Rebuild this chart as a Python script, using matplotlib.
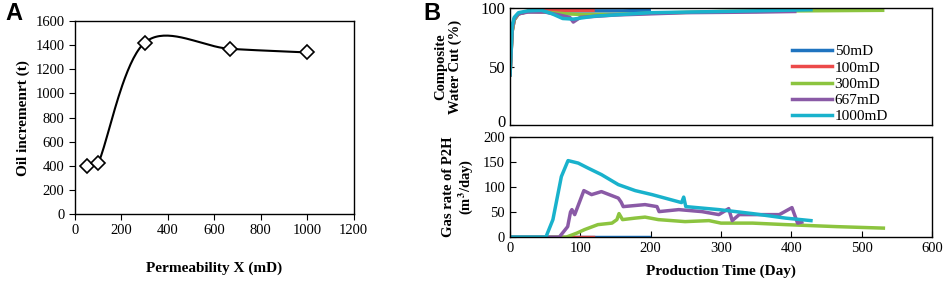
import numpy as np
from matplotlib import pyplot as plt
from matplotlib.transforms import ScaledTranslation

plt.rcParams['font.family'] = ['Liberation Serif', 'DejaVu Serif']
plt.rcParams['mathtext.fontset'] = 'stix'

# Panel A: oil increment vs permeability
perm = [50, 100, 300, 667, 1000]
oil_inc = [400, 420, 1420, 1370, 1340]

# Panel B: series
labels = ['50mD', '100mD', '300mD', '667mD', '1000mD']
colors = ['#1f74c0', '#ec4a4a', '#8cc43f', '#8a5aa6', '#19b2cc']

wc_days = {
    '50mD': [0, 3, 6, 12, 25, 50, 80, 120, 160, 198],
    '100mD': [0, 3, 6, 12, 25, 50, 80, 100, 118],
    '300mD': [0, 3, 6, 12, 25, 50, 80, 100, 150, 200, 300, 400, 530],
    '667mD': [0, 3, 6, 12, 25, 50, 70, 85, 90, 100, 150, 250, 350, 405],
    '1000mD': [0, 3, 6, 12, 25, 45, 60, 75, 90, 120, 200, 300, 428],
}
wc_vals = {
    '50mD': [43, 80, 90, 95, 97, 98, 97.5, 97.5, 97.5, 98],
    '100mD': [43, 80, 90, 95, 97, 98, 98, 98, 98],
    '300mD': [43, 80, 90, 95, 97, 96.5, 95, 94.5, 94.5, 95.5, 97, 97.5, 98],
    '667mD': [43, 82, 91, 95, 96.5, 96.5, 94, 92, 88, 92, 94, 96, 96.5, 97],
    '1000mD': [43, 85, 92, 96, 97.5, 98, 95, 91, 90.5, 93, 96, 97, 98.5],
}

gas_days = {
    '50mD': [0, 197],
    '100mD': [0, 118],
    '300mD': [0, 80, 95, 106, 125, 145, 152, 155, 160, 178, 192, 211, 249, 283,
              300, 345, 392, 464, 531],
    '667mD': [0, 70, 82, 86, 88, 92, 105, 116, 130, 154, 158, 161, 192, 209, 212,
              240, 273, 297, 311, 316, 326, 383, 401, 409, 415],
    '1000mD': [0, 51, 61, 73, 82.5, 97, 111, 130, 154, 178, 202, 244, 247, 250,
               297, 345, 392, 428],
}
gas_vals = {
    '50mD': [0, 0],
    '100mD': [0, 0],
    '300mD': [0, 0, 8, 15, 25, 28, 35, 47, 35, 38, 40, 35, 31, 33,
              28, 28, 25, 21, 18],
    '667mD': [0, 0, 21, 50, 55, 45, 93, 85, 91, 78, 70, 61, 65, 61, 51,
              55, 51, 45, 57, 33, 45, 45, 59, 28, 30],
    '1000mD': [0, 0, 35, 121, 153, 148, 138, 125, 105, 93, 85, 69, 80, 61,
               55, 47, 38, 33],
}


def excel_smooth(x, y, xr, yr, n=40):
    # Bezier smoothing like spreadsheet "smoothed line", tangents clamped
    p = np.column_stack([np.asarray(x, float) / xr, np.asarray(y, float) / yr])
    pp = np.vstack([p[0], p, p[-1]])
    t = np.linspace(0, 1, n)[:, None]
    out = []
    for i in range(1, len(pp) - 2):
        p0, p3 = pp[i], pp[i + 1]
        seg = np.linalg.norm(p3 - p0)
        t0 = (pp[i + 1] - pp[i - 1]) / 6
        t1 = (pp[i + 2] - pp[i]) / 6
        for tv in (t0, t1):
            ln = np.linalg.norm(tv)
            if ln > 0.4 * seg:
                tv *= 0.4 * seg / ln
        c1 = p0 + t0
        c2 = p3 - t1
        b = (1 - t) ** 3 * p0 + 3 * (1 - t) ** 2 * t * c1 + 3 * (1 - t) * t ** 2 * c2 + t ** 3 * p3
        out.append(b)
    out = np.vstack(out)
    return out[:, 0] * xr, out[:, 1] * yr


fig = plt.figure(figsize=(9.48, 2.85), dpi=100)

# ---- Panel A
axA = fig.add_axes([0.079, 0.249, 0.294, 0.677])
sx, sy = excel_smooth(perm, oil_inc, 1200, 1600)
axA.plot(sx, sy, color='black', lw=1.5)
axA.plot(perm, oil_inc, ls='none', marker='D', ms=7, mfc='white', mec='black', mew=1.2)
axA.set_xlim(0, 1200)
axA.set_ylim(0, 1600)
axA.set_xticks(range(0, 1201, 200))
axA.set_yticks(range(0, 1601, 200))
axA.tick_params(labelsize=10.5, length=4, direction='out')
axA.set_xlabel('Permeability X (mD)', fontsize=11, fontweight='bold', labelpad=17)
axA.set_ylabel('Oil incremenrt (t)', fontsize=11, fontweight='bold', labelpad=4)
for s in axA.spines.values():
    s.set_linewidth(1.0)
fig.text(0.006, 0.93, 'A', fontsize=17, fontweight='bold', family='Liberation Sans')

# ---- Panel B top: water cut
axT = fig.add_axes([0.538, 0.561, 0.445, 0.411])
for lab, c in zip(labels, colors):
    axT.plot(wc_days[lab], wc_vals[lab], color=c, lw=2.5, label=lab)
axT.set_xlim(0, 600)
axT.set_ylim(0, 100)
axT.set_yticks([0, 50, 100])
axT.set_xticks([])
axT.tick_params(labelsize=12, length=3, direction='in')
zero_lab = axT.get_yticklabels()[0]
zero_lab.set_transform(zero_lab.get_transform() + ScaledTranslation(0, 3 / 72, fig.dpi_scale_trans))
axT.set_ylabel('Composite\nWater Cut (%)', fontsize=10.5, fontweight='bold',
               linespacing=1.1, labelpad=13)
axT.legend(loc='lower right', bbox_to_anchor=(0.925, -0.09), frameon=False, fontsize=11,
           handlelength=2.6, handletextpad=0.2, labelspacing=0.17, borderpad=0.3)
for s in axT.spines.values():
    s.set_linewidth(1.0)

# ---- Panel B bottom: gas rate
axG = fig.add_axes([0.538, 0.168, 0.445, 0.351])
for lab, c in zip(labels, colors):
    axG.plot(gas_days[lab], gas_vals[lab], color=c, lw=2.5)
axG.set_xlim(0, 600)
axG.set_ylim(0, 200)
axG.set_xticks(range(0, 601, 100))
axG.set_yticks(range(0, 201, 50))
axG.tick_params(labelsize=10.5, length=4, direction='in')
axG.set_xlabel('Production Time (Day)', fontsize=11, fontweight='bold', labelpad=7)
axG.set_ylabel('Gas rate of P2H\n(m$^\\mathbf{3}$/day)', fontsize=10.5, fontweight='bold',
               linespacing=1.1, labelpad=6)
for s in axG.spines.values():
    s.set_linewidth(1.0)
fig.text(0.447, 0.93, 'B', fontsize=17, fontweight='bold', family='Liberation Sans')

plt.savefig('out.png', dpi=100)
plt.close()
